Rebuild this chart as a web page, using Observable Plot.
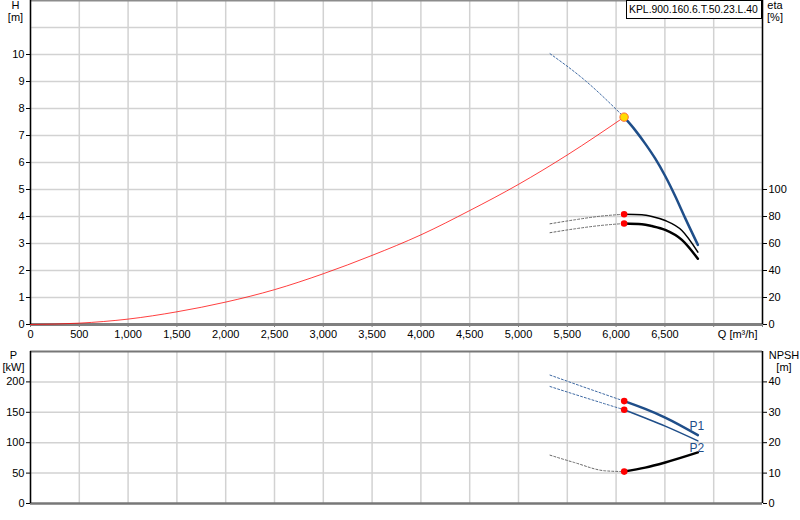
<!DOCTYPE html>
<html><head><meta charset="utf-8">
<script src="https://cdn.jsdelivr.net/npm/d3@7"></script>
<script src="https://cdn.jsdelivr.net/npm/@observablehq/plot@0.6"></script>
<style>
html,body{margin:0;padding:0;background:#fff;}
#wrap{position:relative;width:800px;height:520px;overflow:hidden;font-family:"Liberation Sans",Arial,sans-serif;}
#topPanel,#botPanel{position:absolute;left:0;}
#topPanel{top:0}
#botPanel{top:345px}
#title{position:absolute;left:626px;top:0;width:136px;height:19px;border:1px solid #000;background:#fff;font-size:10.4px;line-height:17px;padding-left:2px;box-sizing:border-box;color:#000;white-space:nowrap;}
</style></head><body>
<div id="wrap"><div id="topPanel"></div><div id="botPanel"></div><div id="title"></div></div>
<script>
// ---------- data ----------
const chartTitle = "KPL.900.160.6.T.50.23.L.40";
const xTicks = [0,500,1000,1500,2000,2500,3000,3500,4000,4500,5000,5500,6000,6500,7000,7500];
const xLabelMax = 6500;
const hTicks = [0,1,2,3,4,5,6,7,8,9,10];
const hGrid = [1,2,3,4,5,6,7,8,9,10,11];
const etaTicks = [0,20,40,60,80,100];
const pTicks = [0,50,100,150,200];
const pGrid = [50,100,150,200];
const npshTicks = [0,10,20,30,40];

// system curve
const qSys = [0,500,1000,1500,2000,2500,3000,3500,4000,4500,5000,5500,6082];
const hSys = [0,0.05,0.2,0.47,0.83,1.29,1.88,2.56,3.32,4.22,5.19,6.28,7.68];
// pump H curve
const qHext = [5323,5682,6082];
const hHext = [10.03,9.04,7.68];
const qH = [6082,6195,6298,6400,6503,6605,6708,6838];
const hH = [7.68,7.20,6.70,6.15,5.50,4.76,3.94,2.95];
// efficiency
const qEtaExt = [5323,5580,5836,6082];
const eta1Ext = [74.6,77.6,80.2,81.7];
const eta2Ext = [68.0,70.9,73.3,74.8];
const qEta = [6082,6264,6367,6503,6674,6838];
const eta1 = [81.7,81.3,80.0,77.0,69.6,53.6];
const eta2 = [74.8,74.3,72.9,70.1,62.7,48.7];
// operating point
const opQ = 6082, opH = 7.68;
// power
const qPext = [5323,5700,6083];
const p1Ext = [211.2,189.8,168.4];
const p2Ext = [192.4,173.2,154.1];
const qP = [6083,6298,6503,6838];
const p1 = [168.4,155.6,141.4,112.5];
const p2 = [154.1,140.6,127.3,103.0];
// NPSH
const qNext = [5323,5570,5887,6083];
const npshExt = [15.9,13.5,10.75,10.5];
const qN = [6083,6298,6503,6838];
const npsh = [10.5,11.8,13.5,16.8];

// ---------- helpers ----------
const tbl = (qs, vs) => qs.map((q, i) => ({q, v: vs[i]}));
const etaK = 20;   // 20 % per 1 m on shared vertical scale
const npshK = 5;   // 5 kW per 1 m
const fmt = d3.format(",");
const font = '"Liberation Sans", Arial, sans-serif';
const blue = "#1f4e89", blueDash = "#3f6aa3", red = "#ff0000";
const gridStyle = {stroke: "#d2d2d2", strokeOpacity: 1, strokeWidth: 1.5};
const curve = "monotone-x";

document.getElementById("title").textContent = chartTitle;

// ---------- top panel ----------
const topPlot = Plot.plot({
  width: 800, height: 345,
  marginLeft: 30, marginRight: 38, marginTop: 0, marginBottom: 21,
  style: {fontFamily: font, fontSize: "11px", color: "#000", background: "#fff", overflow: "visible"},
  x: {domain: [0, 7500], axis: null},
  y: {domain: [0, 12], axis: null},
  marks: [
    Plot.gridX(xTicks, gridStyle),
    Plot.gridY(hGrid, gridStyle),
    Plot.ruleY([12], {stroke: "#8c8c8c", strokeWidth: 2}),
    Plot.axisX(xTicks, {anchor: "bottom", tickSize: 3, tickPadding: 3, stroke: "#808080",
      tickFormat: d => d > xLabelMax ? "" : fmt(d), label: null}),
    Plot.ruleY([0], {stroke: "#808080", strokeWidth: 3}),
    Plot.ruleX([0], {stroke: "#000", strokeWidth: 1.5}),
    Plot.ruleX([7500], {stroke: "#000", strokeWidth: 1.5}),
    Plot.axisY(hTicks, {anchor: "left", tickSize: 4, tickPadding: 2, label: null}),
    Plot.axisY(etaTicks.map(d => d / etaK), {anchor: "right", tickSize: 4, tickPadding: 2,
      tickFormat: d => Math.round(d * etaK), label: null}),
    // system curve
    Plot.line(tbl(qSys, hSys), {x: "q", y: "v", stroke: red, strokeWidth: 1, strokeOpacity: 0.75, curve}),
    // H curve
    Plot.line(tbl(qHext, hHext), {x: "q", y: "v", stroke: blueDash, strokeWidth: 1, strokeDasharray: "2,2", curve}),
    Plot.line(tbl(qH, hH), {x: "q", y: "v", stroke: blue, strokeWidth: 2.5, curve}),
    // efficiency
    Plot.line(tbl(qEtaExt, eta1Ext), {x: "q", y: d => d.v / etaK, stroke: "#666", strokeWidth: 1, strokeDasharray: "2,2", curve}),
    Plot.line(tbl(qEtaExt, eta2Ext), {x: "q", y: d => d.v / etaK, stroke: "#666", strokeWidth: 1, strokeDasharray: "2,2", curve}),
    Plot.line(tbl(qEta, eta1), {x: "q", y: d => d.v / etaK, stroke: "#000", strokeWidth: 1.5, curve}),
    Plot.line(tbl(qEta, eta2), {x: "q", y: d => d.v / etaK, stroke: "#000", strokeWidth: 2.5, curve}),
    Plot.dot([eta1[0], eta2[0]], {x: () => qEta[0], y: d => d / etaK, fill: red, r: 3.3}),
    // operating point
    Plot.dot([{q: opQ, h: opH}], {x: "q", y: "h", fill: "#ffdc00", stroke: "#ff6a30", strokeWidth: 1, r: 4.2}),
    // labels
    Plot.text(["H\n[m]"], {frameAnchor: "top-left", dx: -15, dy: 0, lineAnchor: "top", textAnchor: "middle", lineHeight: 1.1, fill: "#000"}),
    Plot.text(["eta\n[%]"], {frameAnchor: "top-right", dx: 12.5, dy: 0, lineAnchor: "top", textAnchor: "middle", lineHeight: 1.1, fill: "#000"}),
    Plot.text(["Q [m³/h]"], {frameAnchor: "bottom-right", dx: -5, dy: 10, lineAnchor: "middle", textAnchor: "end", fill: "#000"})
  ]
});
document.getElementById("topPanel").append(topPlot);

// ---------- bottom panel ----------
const botPlot = Plot.plot({
  width: 800, height: 175,
  marginLeft: 30, marginRight: 38, marginTop: 6, marginBottom: 17,
  style: {fontFamily: font, fontSize: "11px", color: "#000", background: "#fff", overflow: "visible"},
  x: {domain: [0, 7500], axis: null},
  y: {domain: [0, 250], axis: null},
  marks: [
    Plot.gridX(xTicks, gridStyle),
    Plot.gridY(pGrid, gridStyle),
    Plot.ruleY([250], {stroke: "#777", strokeWidth: 2}),
    Plot.ruleY([0], {stroke: "#777", strokeWidth: 2.5}),
    Plot.ruleX([0], {stroke: "#000", strokeWidth: 1.5}),
    Plot.ruleX([7500], {stroke: "#000", strokeWidth: 1.5}),
    Plot.axisY(pTicks, {anchor: "left", tickSize: 4, tickPadding: 2, label: null}),
    Plot.axisY(npshTicks.map(d => d * npshK), {anchor: "right", tickSize: 4, tickPadding: 2,
      tickFormat: d => Math.round(d / npshK), label: null}),
    // power
    Plot.line(tbl(qPext, p1Ext), {x: "q", y: "v", stroke: blueDash, strokeWidth: 1, strokeDasharray: "2,2", curve}),
    Plot.line(tbl(qPext, p2Ext), {x: "q", y: "v", stroke: blueDash, strokeWidth: 1, strokeDasharray: "2,2", curve}),
    Plot.line(tbl(qP, p1), {x: "q", y: "v", stroke: blue, strokeWidth: 2.5, curve}),
    Plot.line(tbl(qP, p2), {x: "q", y: "v", stroke: blue, strokeWidth: 1.5, curve}),
    // NPSH
    Plot.line(tbl(qNext, npshExt), {x: "q", y: d => d.v * npshK, stroke: "#666", strokeWidth: 1, strokeDasharray: "2,2", curve}),
    Plot.line(tbl(qN, npsh), {x: "q", y: d => d.v * npshK, stroke: "#000", strokeWidth: 2.5, curve}),
    // duty points
    Plot.dot([p1[0], p2[0], npsh[0] * npshK], {x: () => qP[0], y: d => d, fill: red, r: 3.3}),
    // curve labels
    Plot.text([{q: qP[qP.length - 1], v: p1[p1.length - 1], t: "P1"}], {x: "q", y: "v", text: "t", dx: -1, dy: -9, fill: blue, fontSize: 12}),
    Plot.text([{q: qP[qP.length - 1], v: p2[p2.length - 1], t: "P2"}], {x: "q", y: "v", text: "t", dx: -1, dy: 7, fill: blue, fontSize: 12}),
    // axis titles
    Plot.text(["P\n[kW]"], {frameAnchor: "top-left", dx: -17, dy: -1, lineAnchor: "top", textAnchor: "middle", lineHeight: 1.1, fill: "#000"}),
    Plot.text(["NPSH\n[m]"], {frameAnchor: "top-right", dx: 21.5, dy: -1, lineAnchor: "top", textAnchor: "middle", lineHeight: 1.1, fill: "#000"})
  ]
});
document.getElementById("botPanel").append(botPlot);
</script>
</body></html>
